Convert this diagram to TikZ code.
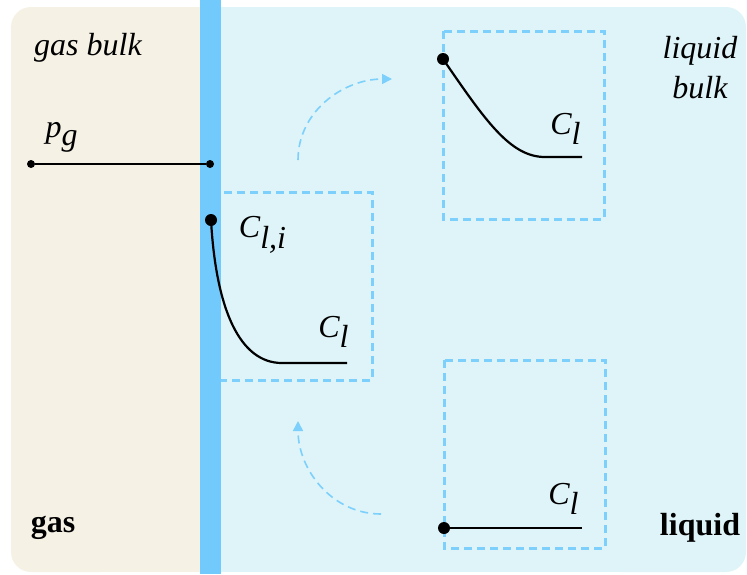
\documentclass[tikz,border=0pt]{standalone}
\usepackage{fontspec}
\setmainfont{Liberation Serif}
\usetikzlibrary{arrows.meta,positioning}
\definecolor{gasbg}{HTML}{F5F1E5}
\definecolor{liqbg}{HTML}{DEF4F8}
\definecolor{film}{HTML}{72CAFC}
\definecolor{dashc}{HTML}{7DD0FC}
\newcommand{\conc}[1]{$\textit{C}_{\textit{#1}}$}

\begin{document}
\begin{tikzpicture}[x=0.5pt, y=-0.5pt, font=\fontsize{16}{19}\selectfont,
  zone/.style={draw=none, rounded corners=10pt},
  win/.style={draw=dashc, line width=1.5pt, dash pattern=on 4pt off 2.5pt},
  prof/.style={line width=1.1pt, black},
  dot/.style={circle, fill=black, inner sep=0pt, minimum size=#1},
  move/.style={draw=dashc, line width=0.8pt, dash pattern=on 4pt off 2.5pt, -{Triangle[length=5pt,width=5pt]}},
  lab/.style={inner sep=1pt}]
\useasboundingbox (0,0) rectangle (747,574);
% phases
\fill[gasbg, zone, sharp corners] (100,7) rectangle (200,572);
\fill[gasbg, zone] (11,7) rectangle (120,572);
\fill[liqbg, zone, sharp corners] (221,7) rectangle (650,572);
\fill[liqbg, zone] (600,7) rectangle (746,572);
% sampling windows
\draw[win] (212,192) rectangle (372,380);
\draw[win] (443,31) rectangle (604,219);
\draw[win] (444,360) rectangle (605,548);
% interface film
\fill[film] (200,0) rectangle (221,574);
% labels
\node[lab, font=\fontsize{16}{19}\selectfont\itshape] (gbulk) at (88,48) {gas bulk};
\node[lab, font=\fontsize{16}{19}\selectfont\itshape, align=center] (lbulk) at (700,68) {liquid\\[1pt]bulk};
\node[lab, font=\fontsize{16}{19}\selectfont\bfseries] (gas) at (53,528) {gas};
\node[lab, font=\fontsize{16}{19}\selectfont\bfseries] (liq) at (700,528) {liquid};
% gas partial pressure
\node[dot=4pt] (g0) at (31,164) {};
\node[dot=4pt] (g1) at (210,164) {};
\node[lab] (pg) at (62,137) {$\textit{p}_{\textit{g}}$};
\draw[line width=0.8pt] (g0) -- (g1);
% film profile
\node[dot=6pt] (ci) at (211,220) {};
\coordinate (c1) at (347,363);
\node[lab] (cli) at (263,235) {\conc{l,i}};
\node[lab] (cl1) at (334,332) {\conc{l}};
\draw[prof] (ci.center) .. controls (216,310) and (240,363) .. (282,363) -- (c1);
% bulk profile
\node[dot=6pt] (cb) at (443,59) {};
\coordinate (c2) at (582,157);
\node[lab] (cl2) at (566,129) {\conc{l}};
\draw[prof] (cb.center) .. controls (485,120) and (510,157) .. (545,157) -- (c2);
% renewed element
\node[dot=6pt] (cr) at (444,528) {};
\coordinate (c3) at (582,528);
\node[lab] (cl3) at (564,499) {\conc{l}};
\draw[prof] (cr.center) -- (c3);
% surface renewal
\coordinate (a0) at (298,160);
\coordinate (a1) at (392,79);
\coordinate (b0) at (381,514);
\coordinate (b1) at (298,421);
\draw[move] (a0) to[out=90, in=180] (a1);
\draw[move] (b0) to[out=180, in=-90] (b1);
\end{tikzpicture}
\end{document}
